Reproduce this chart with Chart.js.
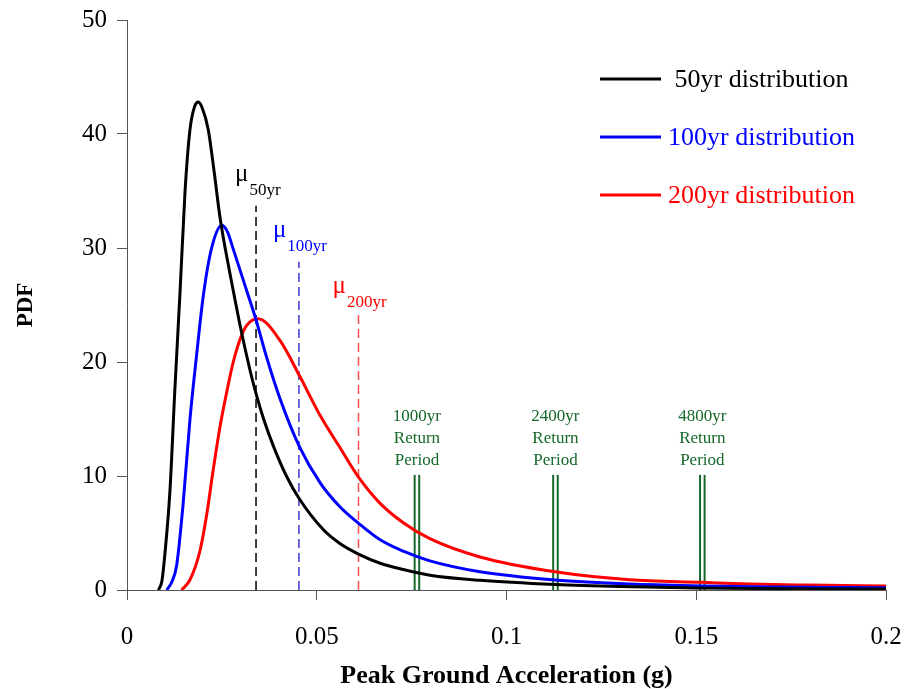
<!DOCTYPE html>
<html>
<head>
<meta charset="utf-8">
<title>PGA distributions</title>
<script src="https://cdn.jsdelivr.net/npm/chart.js@4.4.1/dist/chart.umd.min.js"></script>
<style>
  html, body { margin: 0; padding: 0; background: #ffffff; }
  #wrap { width: 904px; height: 689px; }
</style>
</head>
<body>
<div id="wrap"><canvas id="pdfChart" width="904" height="689"></canvas></div>
<script>
// 50yr distribution
const pga50 = [0.0083, 0.0092, 0.0100, 0.0113, 0.0126, 0.0140, 0.0153, 0.0166, 0.0178, 0.0188, 0.0198, 0.0214, 0.0230, 0.0245, 0.0271, 0.0285, 0.0298, 0.0324, 0.0337, 0.0360, 0.0386, 0.0420, 0.0454, 0.0517, 0.0560, 0.0610, 0.0667, 0.0728, 0.0798, 0.0930, 0.1128, 0.1300, 0.1500, 0.1700, 0.2000];
const pdf50 = [0, 0.8, 3.2, 8.6, 17.5, 26.3, 35.0, 40.4, 42.4, 42.8, 42.3, 40.4, 36.6, 32.7, 27.8, 25.4, 23.2, 19.3, 17.6, 15.0, 12.6, 10.0, 8.0, 5.3, 4.1, 3.15, 2.35, 1.8, 1.3, 0.85, 0.48, 0.3, 0.18, 0.12, 0.08];

// 100yr distribution
const pga100 = [0.0105, 0.0118, 0.0131, 0.0148, 0.0166, 0.0184, 0.0201, 0.0223, 0.0250, 0.0265, 0.0280, 0.0315, 0.0340, 0.0368, 0.0403, 0.0454, 0.0509, 0.0561, 0.0610, 0.0667, 0.0728, 0.0798, 0.0930, 0.1128, 0.1325, 0.1514, 0.1700, 0.2000];
const pdf100 = [0, 0.7, 2.2, 7.6, 15.0, 20.8, 25.8, 30.0, 32.0, 31.4, 29.9, 26.3, 23.7, 20.4, 16.8, 12.6, 9.4, 7.3, 5.85, 4.4, 3.4, 2.55, 1.6, 0.88, 0.52, 0.36, 0.27, 0.2];

// 200yr distribution
const pga200 = [0.0144, 0.0166, 0.0192, 0.0210, 0.0227, 0.0245, 0.0263, 0.0280, 0.0298, 0.0315, 0.0345, 0.0403, 0.0456, 0.0509, 0.0561, 0.0610, 0.0667, 0.0728, 0.0798, 0.0930, 0.1128, 0.1325, 0.1514, 0.1640, 0.1800, 0.2000];
const pdf200 = [0, 0.9, 3.4, 6.6, 10.5, 14.3, 17.4, 20.0, 22.0, 23.2, 23.8, 21.9, 18.7, 15.3, 12.5, 9.9, 7.6, 5.9, 4.5, 2.9, 1.6, 0.9, 0.67, 0.52, 0.43, 0.35];

const seriesNames = [' 50yr distribution', '100yr distribution', '200yr distribution'];
const seriesColors = ['#000000', '#0000ff', '#ff0000'];

// mean PGA markers
const meanX = [0.0340, 0.0453, 0.0610];
const meanTop = [33.7, 28.8, 24.3];
const meanSub = ['50yr', '100yr', '200yr'];
const meanColors = ['#000000', '#3c3cd2', '#ff5050'];

// return period markers
const returnX = [0.0764, 0.1129, 0.1516];
const returnTop = 10.1;
const returnYears = ['1000yr', '2400yr', '4800yr'];
const green = '#15682a';

const serif = "'Liberation Serif', 'Times New Roman', serif";

const toPoints = (xs, ys) => xs.map((x, i) => ({ x: x, y: ys[i] }));

const curves = [[pga50, pdf50], [pga100, pdf100], [pga200, pdf200]].map((d, i) => ({
  data: toPoints(d[0], d[1]),
  borderColor: seriesColors[i],
  borderWidth: 3,
  pointRadius: 0,
  showLine: true,
  cubicInterpolationMode: 'monotone',
  fill: false
}));

const meanLines = meanX.map((x, i) => ({
  data: [{ x: x, y: 0 }, { x: x, y: meanTop[i] }],
  borderColor: meanColors[i],
  borderWidth: 1.5,
  borderDash: [9, 5],
  pointRadius: 0,
  showLine: true
}));

const returnLines = [];
returnX.forEach(x => {
  [-0.0006, 0.0006].forEach(off => {
    returnLines.push({
      data: [{ x: x + off, y: 0 }, { x: x + off, y: returnTop }],
      borderColor: green,
      borderWidth: 2,
      pointRadius: 0,
      showLine: true
    });
  });
});

const labelPlugin = {
  id: 'labelPlugin',
  afterDatasetsDraw(chart) {
    const ctx = chart.ctx;
    const xs = chart.scales.x;
    const ys = chart.scales.y;
    ctx.save();

    // mu labels (the 200yr one sits a little closer to its line)
    const drop = [0, 0, 5];
    meanX.forEach((m, i) => {
      const px = xs.getPixelForValue(m);
      const top = ys.getPixelForValue(meanTop[i]) + drop[i];
      ctx.fillStyle = seriesColors[i];
      ctx.textAlign = 'left';
      ctx.textBaseline = 'alphabetic';
      const startX = px - (i === 0 ? 21 : 26);
      ctx.font = '25px ' + serif;
      ctx.fillText('\u03bc', startX, top - 25);
      const w = ctx.measureText('\u03bc').width;
      ctx.font = '17px ' + serif;
      ctx.fillText(meanSub[i], startX + w + 1, top - 11);
    });

    // return period labels
    ctx.fillStyle = green;
    ctx.font = '17px ' + serif;
    ctx.textAlign = 'center';
    ctx.textBaseline = 'middle';
    returnX.forEach((r, i) => {
      const px = xs.getPixelForValue(r);
      const top = ys.getPixelForValue(returnTop);
      ctx.fillText(returnYears[i], px, top - 58);
      ctx.fillText('Return', px, top - 36);
      ctx.fillText('Period', px, top - 14);
    });

    // legend
    ctx.textAlign = 'left';
    ctx.font = '26px ' + serif;
    seriesNames.forEach((name, i) => {
      const y = 79 + i * 58;
      ctx.strokeStyle = seriesColors[i];
      ctx.lineWidth = 3;
      ctx.beginPath();
      ctx.moveTo(600, y);
      ctx.lineTo(661, y);
      ctx.stroke();
      ctx.fillStyle = seriesColors[i];
      ctx.fillText(name, 668, y + 1);
    });

    ctx.restore();
  }
};

const axisStyle = {
  grid: { display: true, drawOnChartArea: false, drawTicks: true, tickLength: 10, color: '#555555' },
  border: { display: true, color: '#555555', width: 1 }
};

new Chart(document.getElementById('pdfChart').getContext('2d'), {
  type: 'scatter',
  data: { datasets: [...curves, ...meanLines, ...returnLines] },
  options: {
    responsive: false,
    animation: false,
    devicePixelRatio: 1,
    layout: { padding: { top: 20, right: 18, left: 0, bottom: 0 } },
    plugins: {
      legend: { display: false },
      tooltip: { enabled: false }
    },
    scales: {
      x: {
        type: 'linear',
        min: 0,
        max: 0.2,
        ...axisStyle,
        ticks: {
          stepSize: 0.05,
          color: '#000000',
          padding: 22,
          font: { family: serif, size: 25 },
          callback: v => String(+v.toFixed(2))
        },
        title: {
          display: true,
          text: 'Peak Ground Acceleration (g)',
          color: '#000000',
          font: { family: serif, size: 26, weight: 'bold', lineHeight: 1.0 },
          padding: { top: 0, bottom: 0 }
        },
        afterFit: scale => {
          scale.height = 99;
          scale.paddingLeft = 0;
          scale.paddingRight = 0;
        }
      },
      y: {
        type: 'linear',
        min: 0,
        max: 50,
        ...axisStyle,
        ticks: {
          stepSize: 10,
          color: '#000000',
          padding: 10,
          font: { family: serif, size: 25 }
        },
        title: {
          display: true,
          text: 'PDF',
          color: '#000000',
          font: { family: serif, size: 23, weight: 'bold' },
          padding: { top: 12, bottom: 0 }
        },
        afterFit: scale => {
          scale.width = 127;
          scale.paddingTop = 0;
          scale.paddingBottom = 0;
        }
      }
    }
  },
  plugins: [labelPlugin]
});
</script>
</body>
</html>
